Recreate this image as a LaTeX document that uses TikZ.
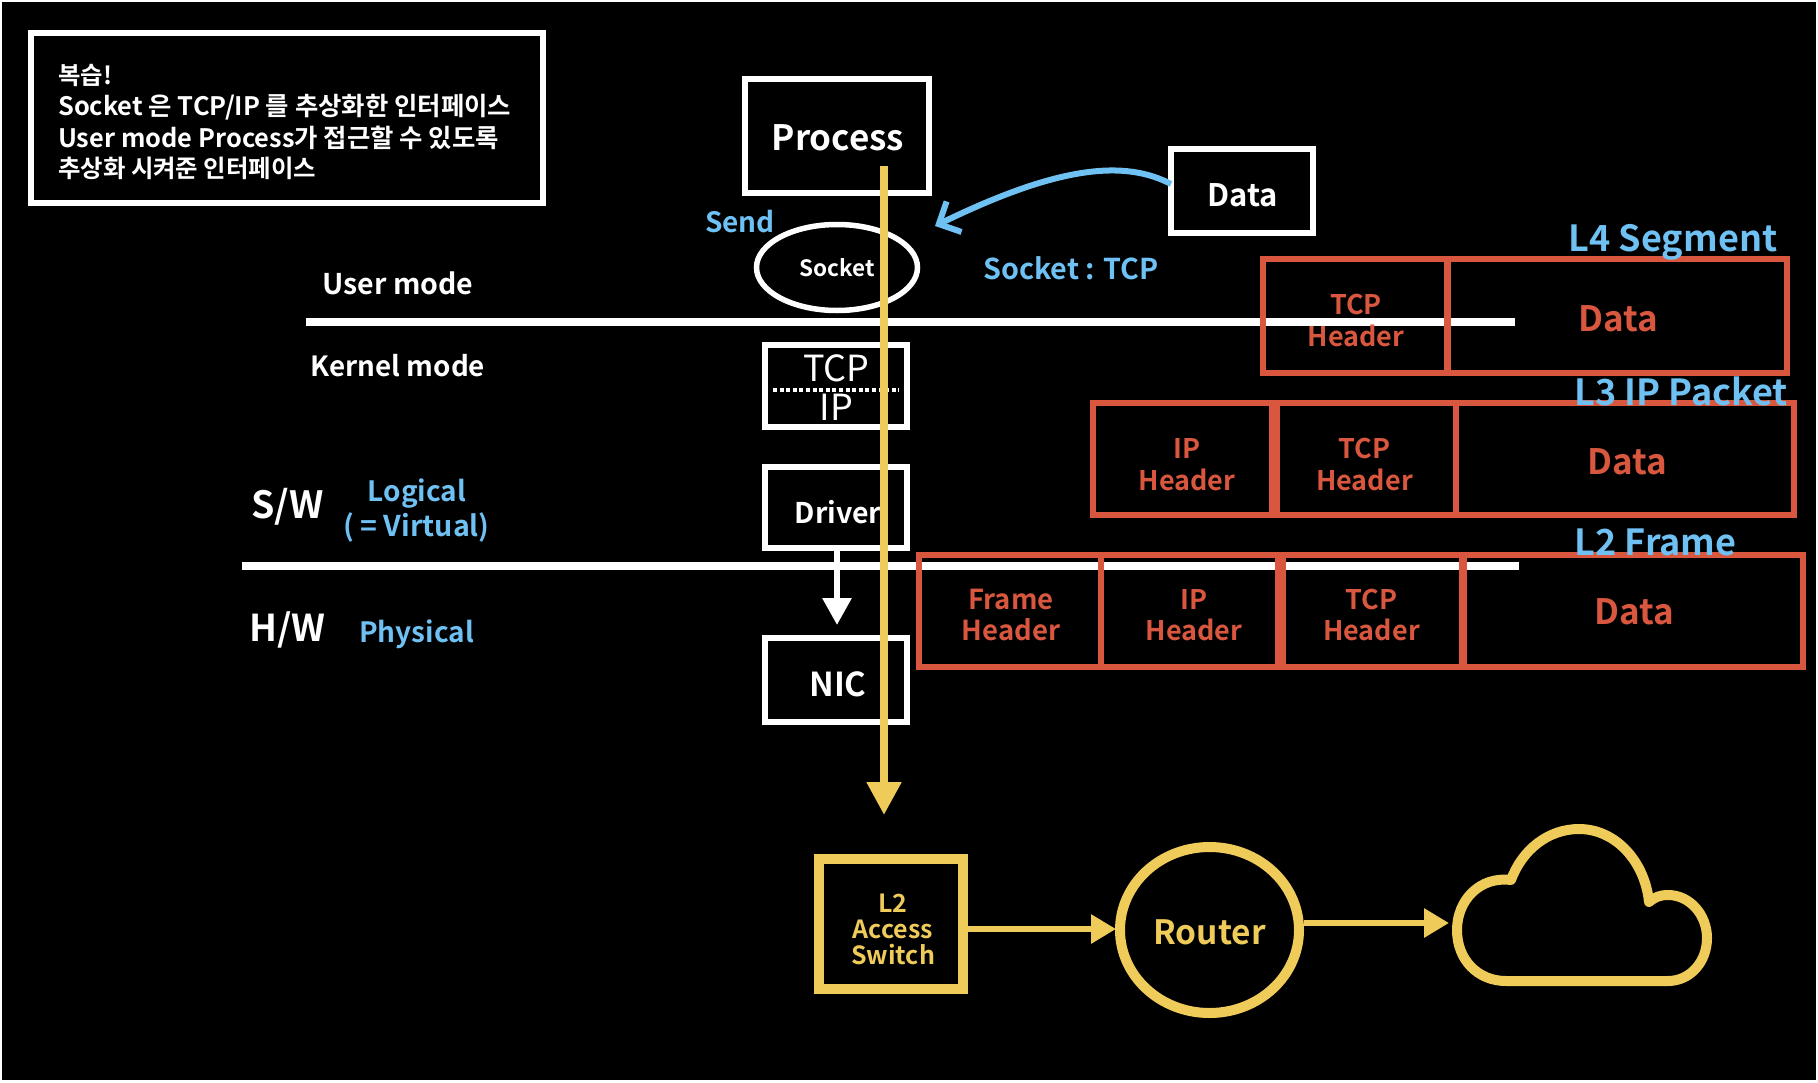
\documentclass[tikz,border=0pt]{standalone}
\usepackage{fontspec}
\usetikzlibrary{arrows.meta,shapes.geometric}
\setmainfont{Noto Sans CJK KR}[BoldFont={Noto Sans CJK KR Bold}]
\definecolor{cred}{HTML}{D9573F}
\definecolor{cyel}{HTML}{EFCB5A}
\definecolor{cblu}{HTML}{6EC1F2}
\newcommand{\fs}[1]{\fontsize{#1}{#1}\selectfont}
\tikzset{
  x=1pt,y=-1pt,
  wbox/.style={draw=white,line width=6pt,inner sep=0pt,rectangle},
  rbox/.style={draw=cred,line width=6pt,inner sep=0pt,rectangle},
  wt/.style={text=white,inner sep=0pt,font=\bfseries\fs{#1}},
  bt/.style={text=cblu,inner sep=0pt,font=\bfseries\fs{#1}},
  rt/.style={text=cred,inner sep=0pt,font=\bfseries\fs{#1},align=center},
  yt/.style={text=cyel,inner sep=0pt,font=\bfseries\fs{#1},align=center},
  yar/.style={draw=cyel,line width=6pt,-{Triangle[length=25pt,width=28pt,fill=cyel]}},
}
\begin{document}
\begin{tikzpicture}
\useasboundingbox (0,0) rectangle (1818,1082);
\fill[white] (0,0) rectangle (1818,1082);
\fill[black] (2,2) rectangle (1816,1080);
% review box
\node[wbox,minimum width=512pt,minimum height=170pt] (rev) at (287,118) {};
\node[text=white,anchor=west,align=left,inner sep=0pt,font=\bfseries\fs{25.4}] (revtext) at (58,122)
 {{\fs{24.4}복습!}\\[5.5pt]Socket 은 TCP/IP 를 추상화한 인터페이스\\[5pt]User mode Process가 접근할 수 있도록\\[5pt]{\fs{24.4}추상화 시켜준 인터페이스}};
% mode lines
\coordinate (l1a) at (306,322); \coordinate (l1b) at (1515,322);
\coordinate (l2a) at (242,566); \coordinate (l2b) at (1519,566);
\draw[white,line width=8pt] (l1a) -- (l1b);
\draw[white,line width=8pt] (l2a) -- (l2b);
% main stack
\node[wbox,minimum width=184pt,minimum height=114pt] (proc) at (837,136) {};
\node[wt=35] (proct) at (838,138) {Process};
\node[wbox,minimum width=141.5pt,minimum height=84pt] (data) at (1241.75,191) {};
\node[wt=31] (datat) at (1243,195) {Data};
\node[draw=white,line width=5.5pt,ellipse,inner sep=0pt,minimum width=161pt,minimum height=86pt] (sock) at (837,267.5) {};
\node[wt=22.5] (sockt) at (837,268) {Socket};
\node[wbox,minimum width=142pt,minimum height=82pt] (tcpip) at (835.75,386) {};
\node[text=white,inner sep=0pt,font=\fs{36}] (tcpt) at (836.5,368) {TCP};
\node[text=white,inner sep=0pt,font=\fs{36}] (ipt) at (836.5,407) {IP};
\coordinate (dota) at (773,390); \coordinate (dotb) at (899,390);
\draw[white,line width=4pt,dash pattern=on 4pt off 2.6pt] (dota) -- (dotb);
\node[wbox,minimum width=142pt,minimum height=81pt] (drv) at (835.75,507.5) {};
\node[wt=28.5] (drvt) at (838,512) {Driver};
\node[wbox,minimum width=142pt,minimum height=84pt] (nic) at (835.75,680) {};
\node[wt=33] (nict) at (838,684) {NIC};
\coordinate (nictop) at (837,625);
\draw[white,line width=6pt,-{Triangle[length=27pt,width=28pt,fill=white]}] (drv.south -| nictop) -- (nictop);
% labels
\node[wt=28.5] (um) at (398,283) {User mode};
\node[wt=27.8] (km) at (398,366) {Kernel mode};
\node[wt=37.5] (sw) at (287.5,507) {S/W};
\node[wt=37] (hw) at (287.5,630) {H/W};
\node[bt=28] (lg) at (417,494) {Logical};
\node[bt=28.6] (vt) at (416.5,527) {( = Virtual)};
\node[bt=28] (ph) at (416.5,634) {Physical};
\node[bt=28] (snd) at (740,222) {Send};
\node[bt=28.7] (st) at (1071,268) {Socket : TCP};
% blue arrow
\coordinate (btip) at (935,226);
\draw[cblu,line width=6pt,-{Straight Barb[length=17pt,width=34pt]}] (1171,184) .. controls (1125,160) and (1060,165) .. (btip);
% L4
\node[rbox,minimum width=523.5pt,minimum height=114pt] (l4) at (1524.75,316) {};
\draw[cred,line width=7pt] (l4.north -| 1447,0) -- (l4.south -| 1447,0);
\node[rt=27] (l4a) at (1356,321) {TCP\\[5pt]Header};
\node[rt=35] (l4d) at (1618.5,319) {Data};
\node[bt=36] (l4l) at (1673,242.5) {L4 Segment};
% L3
\node[rbox,minimum width=701pt,minimum height=112pt] (l3) at (1443.5,459) {};
\draw[cred,line width=11pt] (l3.north -| 1274,0) -- (l3.south -| 1274,0);
\draw[cred,line width=6pt] (l3.north -| 1455.5,0) -- (l3.south -| 1455.5,0);
\node[rt=27] (l3a) at (1187,465) {IP\\[5pt]Header};
\node[rt=27] (l3b) at (1364.5,465) {TCP\\[5pt]Header};
\node[rt=35] (l3d) at (1627,462) {Data};
\node[bt=36] (l3l) at (1681,391) {L3 IP Packet};
% L2
\node[rbox,minimum width=884pt,minimum height=112pt] (l2) at (1361,611) {};
\draw[cred,line width=6pt] (l2.north -| 1100.5,0) -- (l2.south -| 1100.5,0);
\draw[cred,line width=10.5pt] (l2.north -| 1280.5,0) -- (l2.south -| 1280.5,0);
\draw[cred,line width=8pt] (l2.north -| 1462.5,0) -- (l2.south -| 1462.5,0);
\node[rt=27.5] (l2z) at (1011,615) {Frame\\[4pt]Header};
\node[rt=27] (l2a) at (1194,615) {IP\\[4pt]Header};
\node[rt=27] (l2b) at (1371.5,615) {TCP\\[4pt]Header};
\node[rt=35] (l2d) at (1634,612) {Data};
\node[bt=36] (l2l) at (1655.5,542) {L2 Frame};
% yellow
\coordinate (ytop) at (884,166); \coordinate (ytip) at (884,815);
\draw[cyel,line width=8pt,-{Triangle[length=33pt,width=33pt,fill=cyel]}] (ytop) -- (ytip);
\node[draw=cyel,line width=10pt,rectangle,inner sep=0pt,minimum width=144pt,minimum height=130pt] (sw2) at (891,924) {};
\node[yt=25] (sw2t) at (893,929.5) {L2\\[1pt]Access\\[1pt]Switch};
\node[draw=cyel,line width=10pt,ellipse,inner sep=0pt,minimum width=179pt,minimum height=166pt] (rt) at (1209.5,930) {};
\node[yt=33.5] (rtt) at (1209.5,932) {Router};
\coordinate (cr) at (1116,929);
\draw[yar] (sw2.east |- cr) -- (cr);
\coordinate (cl) at (1449,923);
\draw[yar] (rt.east |- cl) -- (cl);
\draw[cyel,line width=10pt,line join=round] (1506,981) .. controls (1478,981) and (1457,960) .. (1457,930) .. controls (1457,900) and (1480,876) .. (1511,880) .. controls (1522,850) and (1548,829) .. (1579,829) .. controls (1616,829) and (1645,862) .. (1649,902) .. controls (1655,897) and (1660,895) .. (1668,895) .. controls (1690,895) and (1707,915) .. (1707,938) .. controls (1707,962) and (1690,981) .. (1668,981) -- cycle;
\end{tikzpicture}
\end{document}
